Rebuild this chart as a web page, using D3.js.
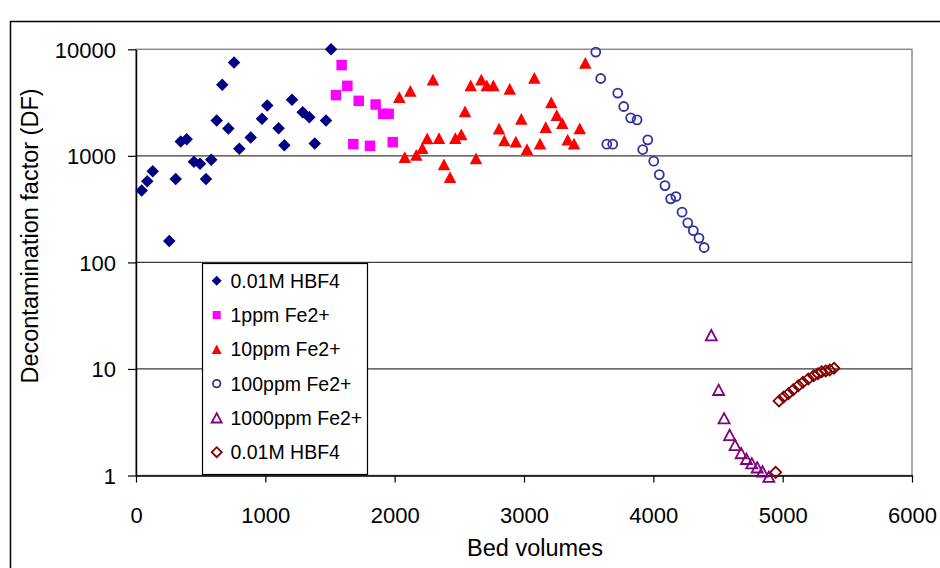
<!DOCTYPE html>
<html><head><meta charset="utf-8">
<script src="https://cdn.jsdelivr.net/npm/d3@7/dist/d3.min.js"></script>
<style>
html,body{margin:0;padding:0;background:#fff;}
svg{display:block;font-family:"Liberation Sans",Arial,sans-serif;}
</style></head>
<body>
<svg id="chart" width="940" height="568"></svg>
<script>
// ---- data ----
const hbf4aX = [44, 87, 129, 257, 307, 346, 392, 448, 495, 541, 582, 624, 667, 714, 758, 799, 887, 974, 1015, 1103, 1147, 1206, 1289, 1340, 1382, 1469, 1508];
const hbf4aY = [472, 578, 718, 159, 608, 1362, 1435, 879, 841, 608, 917, 2145, 4645, 1805, 7516, 1164, 1486, 2225, 2967, 1820, 1260, 3357, 2572, 2309, 1305, 2145, 10000];

const fe1X = [1546, 1590, 1634, 1680, 1722, 1809, 1853, 1912, 1954, 1985];
const fe1Y = [3715, 7110, 4540, 1288, 3283, 1242, 3033, 2479, 2479, 1345];

const fe10X = [2036, 2121, 2296, 2078, 2167, 2214, 2252, 2343, 2381, 2428, 2469, 2515, 2544, 2588, 2629, 2670, 2712, 2763, 2807, 2848, 2890, 2937, 2979, 3023, 3080, 3124, 3168, 3211, 3253, 3296, 3338, 3387, 3431, 3474];
const fe10Y = [3557, 4053, 5174, 972, 1016, 1181, 1453, 1466, 829, 631, 1466, 1585, 2607, 4573, 943, 5174, 4573, 4573, 1793, 1392, 4230, 1353, 2213, 1156, 5365, 1297, 1860, 3165, 2410, 2028, 1413, 1297, 1805, 7418];

const fe100X = [3555, 3593, 3725, 3771, 3825, 3874, 3640, 3686, 3957, 3918, 4003, 4046, 4090, 4134, 4175, 4222, 4266, 4309, 4353, 4393];
const fe100Y = [9418, 5320, 3880, 2904, 2274, 2178, 1288, 1288, 1413, 1146, 892, 667, 526, 395, 415, 296, 235, 199, 169, 138];

const fe1000X = [4448, 4505, 4547, 4590, 4632, 4679, 4720, 4761, 4803, 4844, 4893];
const fe1000Y = [20.7, 6.35, 3.44, 2.40, 1.93, 1.62, 1.43, 1.30, 1.19, 1.09, 0.97];

const hbf4bX = [4946, 4972, 5008, 5044, 5082, 5121, 5157, 5198, 5240, 5273, 5302, 5333, 5364, 5397];
const hbf4bY = [1.07, 5.01, 5.46, 5.86, 6.39, 6.97, 7.50, 8.06, 8.65, 9.03, 9.43, 9.58, 9.79, 10.15];

const seriesNames = ["0.01M HBF4", "1ppm Fe2+", "10ppm Fe2+", "100ppm Fe2+", "1000ppm Fe2+", "0.01M HBF4"];
const xTicks = [0, 1000, 2000, 3000, 4000, 5000, 6000];
const yTicks = [1, 10, 100, 1000, 10000];
const xTitle = "Bed volumes";
const yTitle = "Decontamination factor (DF)";

// ---- styling / layout ----
const svg = d3.select("#chart");
const L = 136, R = 912, T = 49.3, B = 475.5;
const x = d3.scaleLinear().domain([0, 6000]).range([L, R]);
const y = d3.scaleLog().domain([1, 10000]).range([B, T]);

// marker shape paths
const shapes = {
  diamond: s => `M0,${-s/2}L${s/2},0L0,${s/2}L${-s/2},0Z`,
  square: s => `M${-s/2},${-s/2}h${s}v${s}h${-s}Z`,
  triangle: s => `M0,${-s*0.48}L${s/2},${s*0.46}L${-s/2},${s*0.46}Z`,
  circle: s => `M${s/2},0A${s/2},${s/2} 0 1,1 ${-s/2},0A${s/2},${s/2} 0 1,1 ${s/2},0Z`
};

const series = [
  {xs: hbf4aX, ys: hbf4aY, shape: "diamond", size: 12.5, fill: "#000080", stroke: "none", lsize: 10},
  {xs: fe1X, ys: fe1Y, shape: "square", size: 10.5, fill: "#FF00FF", stroke: "none", lsize: 8},
  {xs: fe10X, ys: fe10Y, shape: "triangle", size: 12.5, fill: "#FF0000", stroke: "none", lsize: 10},
  {xs: fe100X, ys: fe100Y, shape: "circle", size: 9, fill: "none", stroke: "#333399", lsize: 7.5},
  {xs: fe1000X, ys: fe1000Y, shape: "triangle", size: 11, fill: "none", stroke: "#800080", lsize: 10},
  {xs: hbf4bX, ys: hbf4bY, shape: "diamond", size: 11, fill: "none", stroke: "#800000", lsize: 10}
];

// outer chart border
svg.append("rect").attr("x", 10.5).attr("y", 21.5).attr("width", 1000).attr("height", 1000)
  .attr("fill", "#fff").attr("stroke", "#000").attr("stroke-width", 1.5);

// plot area border
svg.append("rect").attr("x", L).attr("y", T).attr("width", R - L).attr("height", B - T)
  .attr("fill", "#fff").attr("stroke", "#8c8c8c").attr("stroke-width", 1.5);

// gridlines
svg.append("g").selectAll("line").data(yTicks.filter(v => v > 1 && v < 10000)).join("line")
  .attr("x1", L).attr("x2", R).attr("y1", d => y(d)).attr("y2", d => y(d))
  .attr("stroke", "#3a3a3a").attr("stroke-width", 1.2);

// axes
const fontTick = 22;
const yAxis = svg.append("g").attr("transform", `translate(${L},0)`)
  .call(d3.axisLeft(y).tickValues(yTicks).tickFormat(d3.format("d")).tickSize(8).tickPadding(12).tickSizeOuter(0));
const xAxis = svg.append("g").attr("transform", `translate(0,${B})`)
  .call(d3.axisBottom(x).tickValues(xTicks).tickFormat(d3.format("d")).tickSize(7).tickSizeOuter(0));
[yAxis, xAxis].forEach(g => {
  g.select(".domain").attr("stroke", "#000").attr("stroke-width", 1.5);
  g.selectAll(".tick line").attr("stroke", "#000").attr("stroke-width", 1.2);
  g.selectAll("text").attr("font-size", fontTick).attr("fill", "#000")
    .attr("font-family", "'Liberation Sans', Arial, sans-serif");
});
yAxis.selectAll("text").attr("dy", "0.36em");
xAxis.selectAll("text").attr("y", 47).attr("dy", "0");

// axis titles
svg.append("text").attr("x", x(3085)).attr("y", 556).attr("text-anchor", "middle")
  .attr("font-size", 23.5).attr("fill", "#000").text(xTitle);
svg.append("text").attr("transform", `translate(38,236) rotate(-90)`).attr("text-anchor", "middle")
  .attr("font-size", 23.5).attr("fill", "#000").text(yTitle);

// data points
series.forEach(s => {
  const pts = s.xs.map((v, i) => [v, s.ys[i]]);
  svg.append("g").selectAll("path").data(pts).join("path")
    .attr("transform", d => `translate(${x(d[0])},${y(d[1])})`)
    .attr("d", shapes[s.shape](s.size))
    .attr("fill", s.fill).attr("stroke", s.stroke).attr("stroke-width", s.stroke === "none" ? 0 : 1.8);
});

// legend
const lg = svg.append("g");
lg.append("rect").attr("x", 202.5).attr("y", 263.5).attr("width", 165).attr("height", 211)
  .attr("fill", "#fff").attr("stroke", "#000").attr("stroke-width", 1.2);
seriesNames.forEach((name, i) => {
  const s = series[i];
  const cy = 280.7 + i * 34.3;
  lg.append("path").attr("transform", `translate(216.7,${cy})`)
    .attr("d", shapes[s.shape](s.lsize))
    .attr("fill", s.fill).attr("stroke", s.stroke).attr("stroke-width", s.stroke === "none" ? 0 : 1.8);
  lg.append("text").attr("x", 230.5).attr("y", cy).attr("dy", "0.36em")
    .attr("font-size", 19.5).attr("fill", "#000").text(name);
});
</script>
</body></html>
